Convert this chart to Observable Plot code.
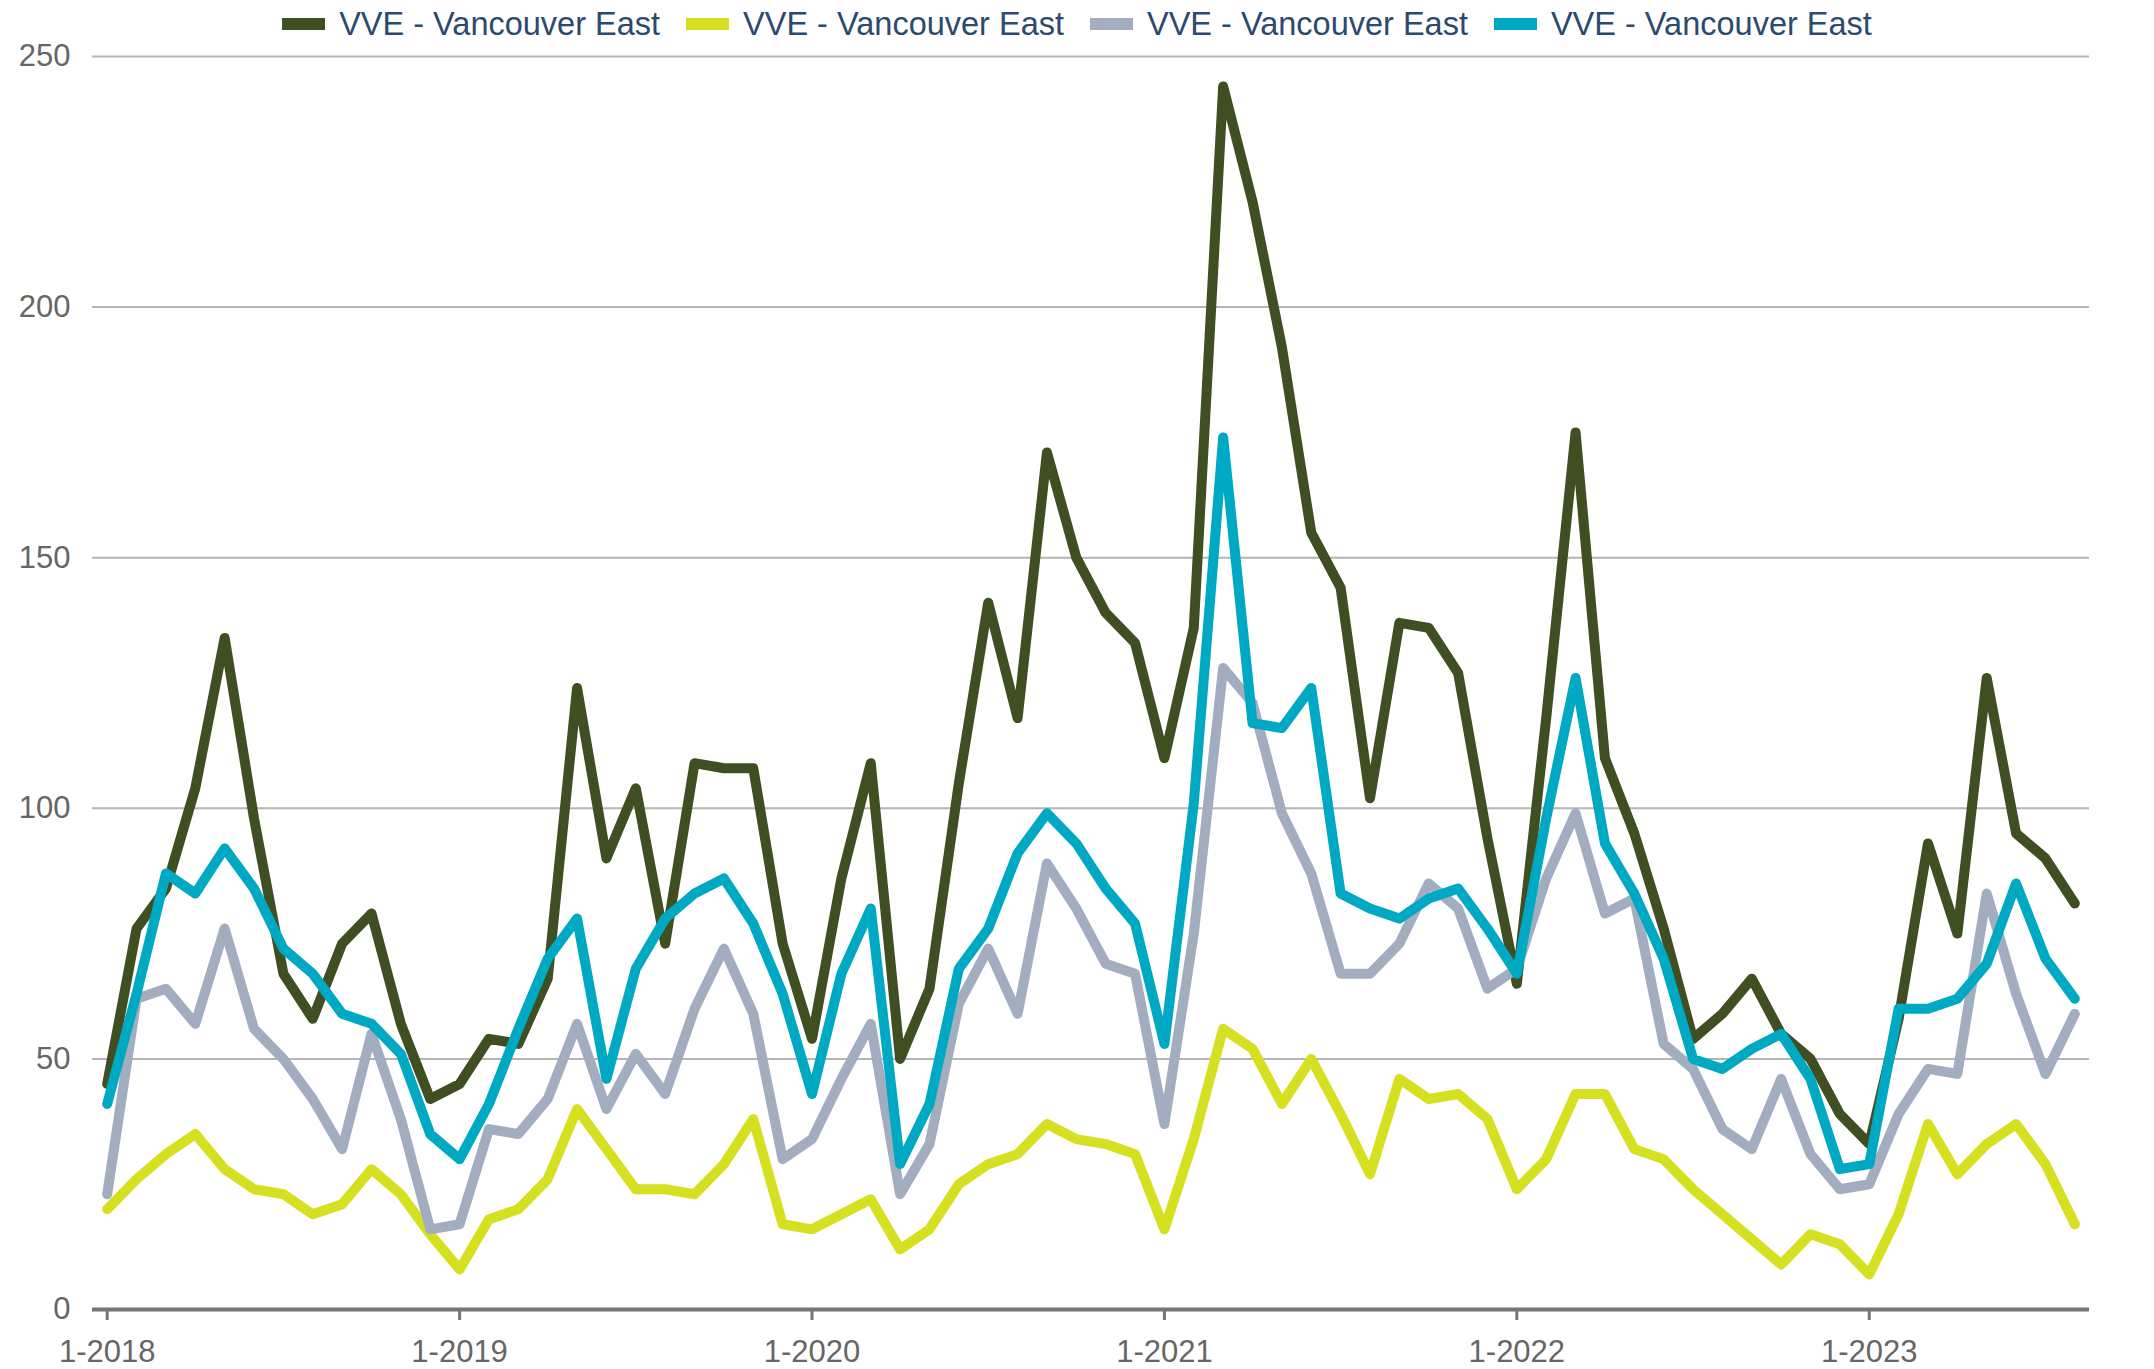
<!DOCTYPE html>
<html>
<head>
<meta charset="utf-8">
<script src="https://cdn.jsdelivr.net/npm/d3@7"></script>
<script src="https://cdn.jsdelivr.net/npm/@observablehq/plot@0.6"></script>
<style>
  html, body { margin: 0; padding: 0; background: #fff; overflow: hidden; }
  body { width: 2154px; height: 1369px; position: relative; font-family: "Liberation Sans", Arial, sans-serif; }
  #legend { position: absolute; left: 0; top: 2px; width: 2154px; height: 44px; display: flex; justify-content: center; align-items: center; gap: 26px; font-size: 32.5px; color: #2c4a6e; z-index: 2; }
  #legend .item { display: flex; align-items: center; gap: 14px; }
  #legend .sw { width: 43px; height: 12px; display: inline-block; }
  #chart svg { display: block; }
</style>
</head>
<body>
<div id="legend"></div>
<div id="chart"></div>
<script>
// Month categories Jan 2018 .. Aug 2023
const months = d3.utcMonth.range(new Date(Date.UTC(2018, 0, 1)), new Date(Date.UTC(2023, 8, 1)))
  .map(d => `${d.getUTCMonth() + 1}-${d.getUTCFullYear()}`);
const xTickLabels = ["1-2018", "1-2019", "1-2020", "1-2021", "1-2022", "1-2023"];
const yTicks = [0, 50, 100, 150, 200, 250];

const seriesNames = ["VVE - Vancouver East", "VVE - Vancouver East", "VVE - Vancouver East", "VVE - Vancouver East"];
const seriesColors = ["#3f4f22", "#d4e020", "#a2aebf", "#00a9c3"];

const darkValues = [45,76,84,104,134,98,67,58,73,79,57,42,
  45,54,53,66,124,90,104,73,109,108,108,73,
  54,86,109,50,64,105,141,118,171,150,139,133,
  110,136,244,221,192,155,144,102,137,136,127,94,
  65,118,175,110,95,76,54,59,66,55,50,39,
  33,58,93,75,126,95,90,81];
const yellowValues = [20,26,31,35,28,24,23,19,21,28,23,15,
  8,18,20,26,40,32,24,24,23,29,38,17,
  16,19,22,12,16,25,29,31,37,34,33,31,
  16,34,56,52,41,50,39,27,46,42,43,38,
  24,30,43,43,32,30,24,19,14,9,15,13,
  7,19,37,27,33,37,29,17];
const grayValues = [23,62,64,57,76,56,50,42,32,55,38,16,
  17,36,35,42,57,40,51,43,60,72,59,30,
  34,46,57,23,33,61,72,59,89,80,69,67,
  37,75,128,121,99,87,67,67,73,85,80,64,
  68,86,99,79,82,53,48,36,32,46,31,24,
  25,39,48,47,83,63,47,59];
const cyanValues = [41,63,87,83,92,84,72,67,59,57,51,35,
  30,41,56,70,78,46,68,78,83,86,77,63,
  43,67,80,29,41,68,76,91,99,93,84,77,
  53,101,174,117,116,124,83,80,78,82,84,76,
  67,98,126,93,83,70,50,48,52,55,46,28,
  29,60,60,62,69,85,70,62];

const allSeries = [darkValues, yellowValues, grayValues, cyanValues];

// Legend
const legend = document.getElementById("legend");
seriesNames.forEach((name, i) => {
  const item = document.createElement("div");
  item.className = "item";
  const sw = document.createElement("span");
  sw.className = "sw";
  sw.style.background = seriesColors[i];
  const label = document.createElement("span");
  label.textContent = name;
  item.appendChild(sw);
  item.appendChild(label);
  legend.appendChild(item);
});

const lineMarks = allSeries.map((vals, i) =>
  Plot.lineY(vals.map((v, j) => ({idx: j, value: v})), {
    x: "idx", y: "value",
    stroke: seriesColors[i], strokeWidth: 10,
    strokeLinejoin: "round", strokeLinecap: "round"
  })
);

const tickIdx = xTickLabels.map(l => months.indexOf(l));

const chart = Plot.plot({
  width: 2154,
  height: 1369,
  marginTop: 56,
  marginBottom: 60,
  marginLeft: 92,
  marginRight: 65,
  style: {fontFamily: "'Liberation Sans', Arial, sans-serif", fontSize: "31px", color: "#666", background: "#fff"},
  x: {type: "linear", domain: [-0.5, months.length - 0.5]},
  y: {domain: [0, 250]},
  marks: [
    Plot.gridY(yTicks.filter(v => v > 0), {stroke: "#b5b5b5", strokeOpacity: 1, strokeWidth: 2}),
    Plot.axisY(yTicks, {tickSize: 0, tickPadding: 22, fill: "#666", fontSize: 31, label: null}),
    ...lineMarks,
    Plot.ruleY([0], {stroke: "#767676", strokeWidth: 4}),
    Plot.axisX(tickIdx, {tickSize: 11, tickPadding: 19, stroke: "#767676", strokeWidth: 3, fill: "#666", fontSize: 31, label: null,
      tickFormat: i => months[i]})
  ]
});
document.getElementById("chart").appendChild(chart);
</script>
</body>
</html>
